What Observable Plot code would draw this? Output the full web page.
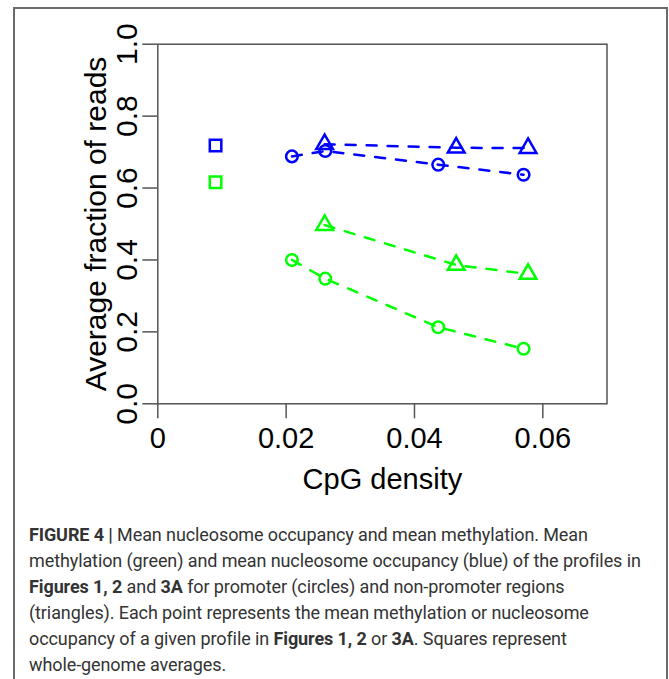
<!DOCTYPE html>
<html>
<head>
<meta charset="utf-8">
<script src="https://cdn.jsdelivr.net/npm/d3@7"></script>
<script src="https://cdn.jsdelivr.net/npm/@observablehq/plot@0.6"></script>
<style>
  html, body { margin: 0; padding: 0; background: #fff; }
  body { position: relative; width: 669px; height: 679px; overflow: hidden; }
  #border { position: absolute; left: 13px; top: 7px; width: 655px; height: 760px;
            border: 2px solid #6b6b6b; box-sizing: border-box; }
  #chart { position: absolute; left: 0; top: 0; }
  #caption { position: absolute; left: 29px; top: 521.5px; font-family: Roboto, "Liberation Sans", sans-serif;
             font-size: 18px; line-height: 26px; letter-spacing: -0.1px; color: #333; white-space: nowrap; }
  #caption b { font-weight: 700; }
</style>
</head>
<body>
<div id="border"></div>
<div id="chart"></div>
<div id="caption"><b>FIGURE 4 |</b> Mean nucleosome occupancy and mean methylation. Mean<br>methylation (green) and mean nucleosome occupancy (blue) of the profiles in<br><b>Figures 1, 2</b> and <b>3A</b> for promoter (circles) and non-promoter regions<br>(triangles). Each point represents the mean methylation or nucleosome<br>occupancy of a given profile in <b>Figures 1, 2</b> or <b>3A</b>. Squares represent<br>whole-genome averages.</div>
<script>
// CpG density (x) and average fraction of reads (y)
const promoterX = [0.0209, 0.0261, 0.0437, 0.0570];
const promoterNucleosome = [0.688, 0.703, 0.665, 0.637];
const promoterMethylation = [0.400, 0.348, 0.213, 0.153];
const nonPromoterX = [0.0260, 0.0465, 0.0577];
const nonPromoterNucleosome = [0.722, 0.712, 0.711];
const nonPromoterMethylation = [0.497, 0.386, 0.361];
const genomeX = [0.009];
const genomeNucleosome = [0.718];
const genomeMethylation = [0.616];
const xTicks = [0, 0.02, 0.04, 0.06];
const yTicks = [0, 0.2, 0.4, 0.6, 0.8, 1.0];

const BLUE = "#0000ff", GREEN = "#00ff00";
const pts = (xs, ys) => xs.map((x, i) => ({x, y: ys[i]}));
const promNuc = pts(promoterX, promoterNucleosome);
const promMeth = pts(promoterX, promoterMethylation);
const nonNuc = pts(nonPromoterX, nonPromoterNucleosome);
const nonMeth = pts(nonPromoterX, nonPromoterMethylation);
const genNuc = pts(genomeX, genomeNucleosome);
const genMeth = pts(genomeX, genomeMethylation);

const dashed = {x: "x", y: "y", strokeWidth: 2.5, strokeDasharray: "10,11", strokeLinecap: "round"};
const dot = {x: "x", y: "y", fill: "none", strokeWidth: 2.5};

const chart = Plot.plot({
  width: 669,
  height: 505,
  marginLeft: 157.3,
  marginRight: 62.5,
  marginTop: 43.7,
  marginBottom: 101.7,
  style: {fontFamily: "'Liberation Sans', Arial, sans-serif", fontSize: "29px", color: "#000", background: "transparent"},
  x: {domain: [0, 0.07]},
  y: {domain: [0, 1]},
  marks: [
    Plot.frame({stroke: "#555", strokeWidth: 1.5}),
    Plot.axisX({ticks: xTicks, tickSize: 15, tickPadding: 8.4, stroke: "#555", strokeWidth: 1.5,
      tickFormat: d => d === 0 ? "0" : d3.format(".2f")(d),
      label: "CpG density", labelAnchor: "center", labelArrow: "none", labelOffset: 85}),
    Plot.axisY({ticks: yTicks, tickSize: 15, tickPadding: 6, stroke: "#555", strokeWidth: 1.5,
      tickRotate: -90, textAnchor: "middle", lineAnchor: "bottom",
      tickFormat: d3.format(".1f"),
      label: "Average fraction of reads", labelAnchor: "center", labelArrow: "none", labelOffset: 73, fontSize: 30}),
    Plot.line(promNuc, {...dashed, stroke: BLUE}),
    Plot.line(nonNuc, {...dashed, stroke: BLUE}),
    Plot.line(promMeth, {...dashed, stroke: GREEN}),
    Plot.line(nonMeth, {...dashed, stroke: GREEN}),
    Plot.dot(promNuc, {...dot, stroke: BLUE, symbol: "circle", r: 5.8}),
    Plot.dot(promMeth, {...dot, stroke: GREEN, symbol: "circle", r: 5.8}),
    Plot.dot(nonNuc, {...dot, stroke: BLUE, symbol: "triangle", r: 6.2}),
    Plot.dot(nonMeth, {...dot, stroke: GREEN, symbol: "triangle", r: 6.2}),
    Plot.dot(genNuc, {...dot, stroke: BLUE, symbol: "square", r: 6.5}),
    Plot.dot(genMeth, {...dot, stroke: GREEN, symbol: "square", r: 6.5})
  ]
});
document.getElementById("chart").appendChild(chart);
</script>
</body>
</html>
